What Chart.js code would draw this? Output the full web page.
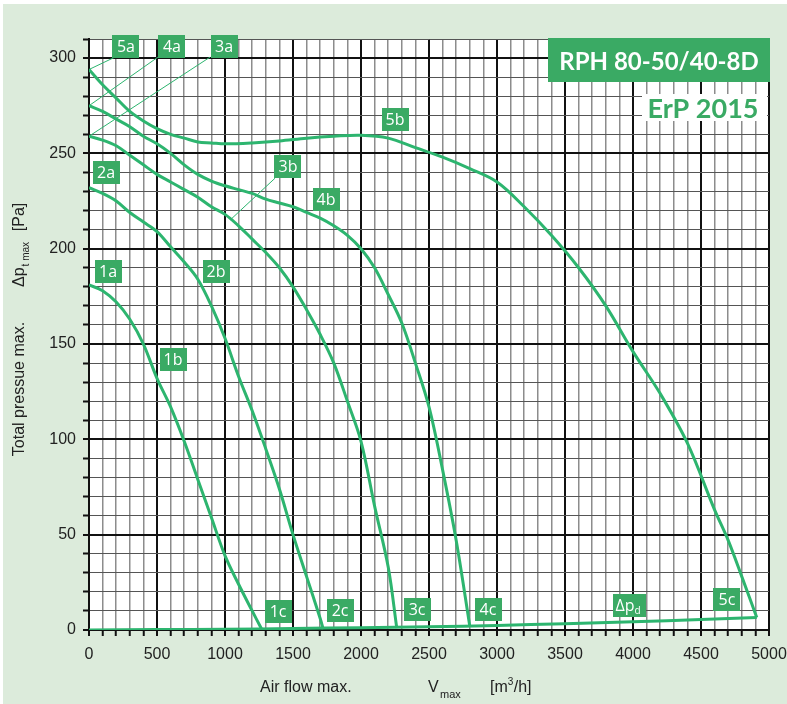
<!DOCTYPE html>
<html>
<head>
<meta charset="utf-8">
<script src="https://cdn.jsdelivr.net/npm/chart.js@4.4.0/dist/chart.umd.min.js"></script>
<style>
html, body { margin: 0; padding: 0; background: #fff; }
</style>
</head>
<body>
<canvas id="myChart" width="787" height="704"></canvas>
<script>
// curve data: air flow [m3/h] and total pressure [Pa]
var flow1 = [0, 100, 200, 300, 400, 500, 600, 700, 800, 900, 1000, 1100, 1200, 1270];
var pres1 = [181, 178, 172, 163, 150, 132, 117, 99, 79, 59, 39, 24, 10, 0.4];

var flow2 = [0, 100, 200, 300, 400, 500, 600, 700, 800, 900, 1000, 1100, 1200, 1300, 1400, 1500, 1600, 1700, 1722];
var pres2 = [232, 229, 225, 219, 214, 209, 201, 193, 184, 170, 153, 133, 115, 95, 74, 50, 28, 6, 0.5];

var flow3 = [0, 100, 200, 300, 400, 500, 600, 700, 800, 900, 1000, 1100, 1200, 1300, 1400, 1500, 1600, 1700, 1800, 1900, 2000, 2100, 2200, 2263];
var pres3 = [259, 257, 254, 249, 244, 239, 235, 231, 227, 222, 218, 212, 205, 198, 190, 180, 168, 155, 140, 120, 99, 65, 33, 1];

var flow4 = [0, 100, 200, 300, 400, 500, 600, 700, 800, 900, 1000, 1100, 1200, 1300, 1400, 1500, 1600, 1700, 1800, 1900, 2000, 2100, 2200, 2300, 2400, 2500, 2600, 2700, 2800];
var pres4 = [275, 272, 268, 264, 259, 255, 250, 244, 239, 235.5, 233, 231, 229, 226, 224, 222, 219, 216, 212, 207, 200, 190, 176, 161, 140, 117, 84, 47, 2];

var flow5 = [0, 100, 200, 300, 400, 500, 600, 700, 800, 900, 1000, 1200, 1400, 1600, 1800, 2000, 2200, 2400, 2600, 2800, 3000, 3200, 3400, 3600, 3800, 4000, 4200, 4400, 4600, 4700, 4800, 4910];
var pres5 = [294, 286, 279, 272, 267, 263, 260, 258, 256, 255.5, 255, 255.5, 256.5, 258, 259, 259.5, 258, 253, 248, 242, 235, 222, 207, 190, 170, 146, 124, 98, 63, 47, 28, 6.5];

// dynamic pressure line
var flowD = [0, 500, 1000, 1500, 2000, 2500, 3000, 3500, 4000, 4500, 4910];
var presD = [0, 0.2, 0.4, 0.8, 1.2, 1.7, 2.4, 3.3, 4.3, 5.5, 6.5];

// tick labels
var xTicks = [0, 500, 1000, 1500, 2000, 2500, 3000, 3500, 4000, 4500, 5000];
var yTicks = [0, 50, 100, 150, 200, 250, 300];

// curve labels (text, flow, pressure)
var labelText = ['5a', '4a', '3a', '5b', '2a', '3b', '4b', '1a', '2b', '1b', '1c', '2c', '3c', '4c', 'Δpd', '5c'];
var labelFlow = [272, 610, 993, 2250, 125, 1463, 1743, 140, 934, 618, 1390, 1846, 2412, 2934, 3971, 4691];
var labelPres = [306, 306, 306, 268, 240, 243, 226, 188, 188, 142, 9.5, 10, 11, 11, 13, 16];

// leader lines from label to curve start
var leaders = [
	[191, 300.5, 0, 294],
	[507, 300.5, 0, 275],
	[890, 300.5, 0, 259],
	[1368, 237, 1037, 215]
];

var green = '#3aaa64';
var lineGreen = '#2db56f';

function pts(xs, ys) {
	var out = [];
	for (var i in xs) out.push({x: xs[i], y: ys[i]});
	return out;
}

function curve(xs, ys) {
	return {
		data: pts(xs, ys),
		showLine: true,
		borderColor: lineGreen,
		borderWidth: 3,
		pointRadius: 0,
		fill: false,
		tension: 0.35
	};
}

var decor = {
	id: 'decor',
	beforeDraw: function(chart) {
		var c = chart.ctx, a = chart.chartArea;
		c.save();
		c.fillStyle = '#ffffff';
		c.fillRect(0, 0, chart.width, chart.height);
		c.fillStyle = '#dcebdb';
		c.fillRect(3, 4, chart.width - 3, chart.height - 4);
		c.fillStyle = '#ffffff';
		c.fillRect(a.left, a.top, a.right - a.left, a.bottom - a.top);
		c.restore();
	},
	afterDatasetsDraw: function(chart) {
		var c = chart.ctx, a = chart.chartArea;
		var xs = chart.scales.x, ys = chart.scales.y;
		c.save();

		// leader lines
		c.strokeStyle = lineGreen;
		c.lineWidth = 1;
		leaders.forEach(function(l) {
			c.beginPath();
			c.moveTo(xs.getPixelForValue(l[0]), ys.getPixelForValue(l[1]));
			c.lineTo(xs.getPixelForValue(l[2]), ys.getPixelForValue(l[3]));
			c.stroke();
		});

		// label boxes
		c.textBaseline = 'alphabetic';
		for (var i = 0; i < labelText.length; i++) {
			var px = xs.getPixelForValue(labelFlow[i]);
			var py = ys.getPixelForValue(labelPres[i]);
			var t = labelText[i];
			var w = t == 'Δpd' ? 33 : 27;
			c.fillStyle = green;
			c.fillRect(Math.round(px - w / 2), Math.round(py - 11.5), w, 23);
			c.fillStyle = '#ffffff';
			c.font = '16px "Open Sans"';
			if (t == 'Δpd') {
				c.textAlign = 'left';
				var mw = c.measureText('Δp').width;
				c.fillText('Δp', px - w / 2 + 3, py + 5.5);
				c.font = '10px "Open Sans"';
				c.fillText('d', px - w / 2 + 3 + mw, py + 9);
			} else {
				c.textAlign = 'center';
				c.fillText(t, px, py + 5.5);
			}
		}

		// title box
		c.fillStyle = green;
		c.fillRect(548, 38, 222, 44);
		c.fillStyle = '#ffffff';
		c.font = 'bold 24px Lato';
		c.textAlign = 'center';
		c.fillText('RPH 80-50/40-8D', 659, 70, 200);

		c.fillStyle = '#ffffff';
		c.fillRect(642, 94, 125, 27);
		c.fillStyle = green;
		c.font = 'bold 27px Lato';
		c.fillText('ErP 2015', 703, 118, 116);

		// axis titles
		c.fillStyle = '#222';
		c.textAlign = 'left';
		c.font = '16px "Liberation Sans"';
		c.fillText('Air flow max.', 260, 692);
		c.fillText('V', 428, 692);
		c.font = '11px "Liberation Sans"';
		c.fillText('max', 440, 698);
		c.font = '16px "Liberation Sans"';
		c.fillText('[m', 490, 692);
		var mw2 = c.measureText('[m').width;
		c.font = '10px "Liberation Sans"';
		c.fillText('3', 490 + mw2, 685);
		c.font = '16px "Liberation Sans"';
		c.fillText('/h]', 490 + mw2 + 6, 692);

		c.save();
		c.translate(24, 389);
		c.rotate(-Math.PI / 2);
		c.textAlign = 'center';
		c.fillText('Total pressue max.', 0, 0);
		c.restore();

		c.save();
		c.translate(24, 287);
		c.rotate(-Math.PI / 2);
		c.textAlign = 'left';
		c.fillText('Δp', 0, 0);
		var dw = c.measureText('Δp').width;
		c.font = '10px "Liberation Sans"';
		c.fillText('t max', dw + 1, 5);
		c.restore();

		c.save();
		c.font = '16px "Liberation Sans"';
		c.translate(24, 217);
		c.rotate(-Math.PI / 2);
		c.textAlign = 'center';
		c.fillText('[Pa]', 0, 0);
		c.restore();

		c.restore();
	}
};

var ctx = document.getElementById('myChart');

var chart = new Chart(ctx, {
	type: 'scatter',
	data: {
		datasets: [
			curve(flowD, presD),
			curve(flow1, pres1),
			curve(flow2, pres2),
			curve(flow3, pres3),
			curve(flow4, pres4),
			curve(flow5, pres5)
		]
	},
	options: {
		responsive: false,
		animation: false,
		devicePixelRatio: 1,
		layout: { padding: { left: 0, top: 39, right: 18, bottom: 0 } },
		plugins: {
			legend: { display: false },
			tooltip: { enabled: false }
		},
		scales: {
			x: {
				type: 'linear',
				min: 0,
				max: 5000,
				afterFit: function(s) { s.height = 74; s.paddingLeft = 0; s.paddingRight = 0; },
				border: { color: '#111', width: 2 },
				grid: {
					color: function(g) { return g.tick && g.tick.value % 500 === 0 ? '#111' : '#8c8c8c'; },
					lineWidth: function(g) { return g.tick && g.tick.value % 500 === 0 ? 2 : 1.5; },
					tickColor: '#111',
					tickWidth: 2,
					tickLength: 6
				},
				ticks: {
					stepSize: 100,
					autoSkip: false,
					maxRotation: 0,
					padding: 9,
					color: '#222',
					font: { family: 'Liberation Sans', size: 16 },
					callback: function(v) { return xTicks.indexOf(v) >= 0 ? String(v) : ''; }
				}
			},
			y: {
				type: 'linear',
				min: 0,
				max: 310,
				afterFit: function(s) { s.width = 89; },
				border: { color: '#111', width: 2 },
				grid: {
					color: function(g) { return g.tick && g.tick.value % 50 === 0 ? '#111' : '#555'; },
					lineWidth: function(g) { return g.tick && g.tick.value % 50 === 0 ? 2 : 1; },
					tickColor: '#111',
					tickWidth: 2,
					tickLength: 6
				},
				ticks: {
					stepSize: 10,
					autoSkip: false,
					padding: 7,
					color: '#222',
					font: { family: 'Liberation Sans', size: 16 },
					callback: function(v) { return yTicks.indexOf(v) >= 0 ? String(v) : ''; }
				}
			}
		}
	},
	plugins: [decor]
});
</script>
</body>
</html>
